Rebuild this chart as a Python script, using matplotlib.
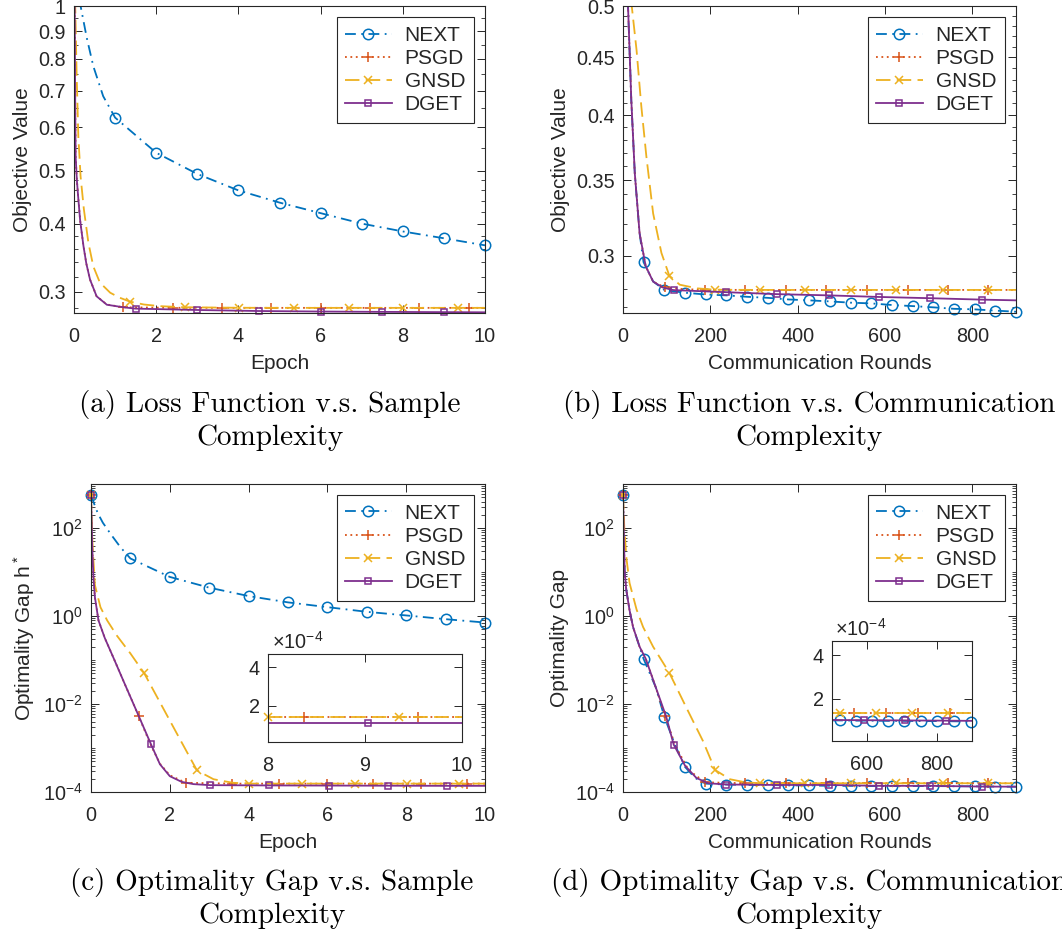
import numpy as np
import matplotlib
matplotlib.use('Agg')
import matplotlib.pyplot as plt
from matplotlib.lines import Line2D
from matplotlib.ticker import FixedLocator, FixedFormatter, NullFormatter, LogLocator

plt.rcParams['font.family'] = ['Liberation Sans', 'DejaVu Sans']
plt.rcParams['mathtext.fontset'] = 'custom'
plt.rcParams['mathtext.rm'] = 'Liberation Sans'
plt.rcParams['mathtext.it'] = 'Liberation Sans:italic'
plt.rcParams['mathtext.bf'] = 'Liberation Sans:bold'
plt.rcParams['text.color'] = '#262626'
plt.rcParams['axes.labelcolor'] = '#262626'

names = ['NEXT', 'PSGD', 'GNSD', 'DGET']
colors = ['#0072BD', '#D95319', '#EDB120', '#7E2F8E']
linestyles = [(0, (6, 3, 1, 3)), (0, (1, 2)), (0, (8, 3.5)), '-']
markers = ['o', '+', 'x', 's']
msizes = [7.5, 7, 6, 5]

# (a) objective vs epoch
a_next_x = [0, 0.05, 0.1, 0.16, 0.31, 0.47, 0.71, 1, 2, 3, 4, 5, 6, 7, 8, 9, 10]
a_next_y = [2.2, 1.45, 1.18, 1.0, 0.875, 0.776, 0.684, 0.625, 0.539, 0.493, 0.460, 0.437, 0.418, 0.400,
            0.387, 0.376, 0.365]
a_next_mk = [1, 2, 3, 4, 5, 6, 7, 8, 9, 10]
a_psgd_x = [0, 0.01, 0.02, 0.03, 0.04, 0.07, 0.1, 0.15, 0.23, 0.3, 0.39, 0.55, 0.8, 1.2, 2.4, 3.6, 4.8,
            6.0, 7.2, 8.4, 9.6, 10]
a_psgd_y = [2.2, 1.3, 0.9, 0.65, 0.53, 0.48, 0.449, 0.405, 0.364, 0.338, 0.316, 0.2945, 0.2845, 0.2812,
            0.2806, 0.2805, 0.2805, 0.2805, 0.2805, 0.2805, 0.2805, 0.2805]
a_psgd_mk = [1.2, 2.4, 3.6, 4.8, 6.0, 7.2, 8.4, 9.6]
a_gnsd_x = [0, 0.015, 0.03, 0.065, 0.105, 0.16, 0.24, 0.35, 0.47, 0.63, 0.88, 1.1, 1.36, 1.7, 2.1, 2.7,
            4.02, 5.35, 6.69, 8.01, 9.35, 10]
a_gnsd_y = [2.2, 1.4, 1.0, 0.745, 0.578, 0.488, 0.425, 0.369, 0.334, 0.312, 0.299, 0.293, 0.288, 0.2845,
            0.2825, 0.2812, 0.2806, 0.2805, 0.2805, 0.2805, 0.2805, 0.2805]
a_gnsd_mk = [1.36, 2.7, 4.02, 5.35, 6.69, 8.01, 9.35]
a_dget_x = [0, 0.01, 0.02, 0.03, 0.04, 0.07, 0.1, 0.15, 0.23, 0.3, 0.39, 0.55, 0.8, 1.2, 1.5, 3.0, 4.5,
            6.0, 7.5, 9.0, 10]
a_dget_y = [2.2, 1.3, 0.9, 0.65, 0.53, 0.48, 0.449, 0.405, 0.364, 0.338, 0.316, 0.2945, 0.2842, 0.2812,
            0.2796, 0.2780, 0.2768, 0.2762, 0.2758, 0.2755, 0.2753]
a_dget_mk = [1.5, 3.0, 4.5, 6.0, 7.5, 9.0]

# (b) objective vs communication rounds
b_next_x = [0, 4, 8, 11.5, 19, 27, 38, 47, 69, 95, 142, 189, 237, 284, 332, 379, 426, 474, 521, 568,
            616, 663, 711, 758, 805, 853, 900]
b_next_y = [2.2, 1.2, 0.7, 0.5, 0.412, 0.355, 0.314, 0.296, 0.2845, 0.2795, 0.278, 0.277, 0.2765,
            0.2757, 0.2751, 0.2742, 0.2737, 0.2731, 0.2724, 0.272, 0.2711, 0.2705, 0.2698, 0.269,
            0.2687, 0.268, 0.2674]
b_next_mk = [47, 95, 142, 189, 237, 284, 332, 379, 426, 474, 521, 568, 616, 663, 711, 758, 805, 853, 900]
b_psgd_x = [0, 4, 8, 11.5, 19, 27, 38, 52, 69, 96, 140, 188, 280, 374, 466, 559, 653, 745, 837, 900]
b_psgd_y = [2.2, 1.2, 0.7, 0.5, 0.412, 0.355, 0.314, 0.2935, 0.2844, 0.281, 0.2800, 0.2797, 0.2796,
            0.2796, 0.2796, 0.2796, 0.2796, 0.2796, 0.2796, 0.2796]
b_psgd_mk = [96, 188, 280, 374, 466, 559, 653, 745, 837]
b_gnsd_x = [0, 5, 10, 15, 20, 31, 42, 53.5, 69, 88, 106, 130, 170, 211, 314, 417, 521, 626, 732, 836,
            900]
b_gnsd_y = [2.2, 1.5, 0.9, 0.62, 0.5, 0.457, 0.407, 0.3675, 0.327, 0.3016, 0.2879, 0.2826, 0.2805,
            0.2797, 0.2796, 0.2796, 0.2796, 0.2796, 0.2796, 0.2796, 0.2796]
b_gnsd_mk = [106, 211, 314, 417, 521, 626, 732, 836]
b_dget_x = [0, 4, 8, 11.5, 19, 27, 38, 52, 69, 92, 116, 237, 352, 471, 587, 704, 822, 900]
b_dget_y = [2.2, 1.2, 0.7, 0.5, 0.4125, 0.355, 0.314, 0.2935, 0.2844, 0.2809, 0.2795, 0.2783, 0.2772,
            0.2765, 0.2756, 0.2749, 0.2741, 0.2737]
b_dget_mk = [116, 237, 352, 471, 587, 704, 822]

# (c) optimality gap vs epoch
c_next_x = [0, 0.08, 0.17, 0.3, 0.51, 0.75, 1, 2, 3, 4, 5, 6, 7, 8, 9, 10]
c_next_y = [562, 355, 219, 132, 70.8, 36.3, 20.3, 7.73, 4.41, 2.84, 2.04, 1.59, 1.245, 1.03, 0.847, 0.71]
c_next_mk = [0, 1, 2, 3, 4, 5, 6, 7, 8, 9, 10]
c_psgd_x = [0, 0.03, 0.06, 0.1, 0.19, 0.35, 0.575, 0.83, 1.21, 1.5, 1.75, 2.0, 2.41, 3.59, 4.78, 5.98,
            7.17, 8.37, 9.55, 10]
c_psgd_y = [562, 39.8, 7.94, 2.63, 0.794, 0.316, 0.1096, 0.0324, 5.3e-3, 1.26e-3, 4.4e-4, 2.4e-4,
            1.62e-4, 1.55e-4, 1.55e-4, 1.55e-4, 1.55e-4, 1.55e-4, 1.55e-4, 1.55e-4]
c_psgd_mk = [0, 1.21, 2.41, 3.59, 4.78, 5.98, 7.17, 8.37, 9.55]
c_gnsd_x = [0, 0.02, 0.04, 0.1, 0.24, 0.41, 0.66, 1.0, 1.35, 1.93, 2.27, 2.69, 3.11, 3.6, 4.02, 5.36,
            6.69, 8.01, 9.35, 10]
c_gnsd_y = [562, 126, 39.8, 5.01, 1.585, 0.794, 0.355, 0.141, 0.0501, 5.5e-3, 1.51e-3, 3.09e-4,
            1.95e-4, 1.62e-4, 1.55e-4, 1.55e-4, 1.55e-4, 1.55e-4, 1.55e-4, 1.55e-4]
c_gnsd_mk = [0, 1.35, 2.69, 4.02, 5.36, 6.69, 8.01, 9.35]
c_dget_x = [0, 0.03, 0.06, 0.1, 0.19, 0.35, 0.575, 0.83, 1.21, 1.52, 1.75, 2.0, 2.3, 2.6, 3.03, 4.53,
            6.03, 7.53, 9.03, 10]
c_dget_y = [562, 39.8, 7.94, 2.63, 0.794, 0.316, 0.1096, 0.0324, 5.37e-3, 1.23e-3, 4.27e-4, 2.29e-4,
            1.70e-4, 1.51e-4, 1.43e-4, 1.41e-4, 1.40e-4, 1.39e-4, 1.38e-4, 1.38e-4]
c_dget_mk = [0, 1.52, 3.03, 4.53, 6.03, 7.53, 9.03]

# (c) inset, epochs 8-10
ci_psgd_x = [8, 8.37, 9.55, 10]
ci_psgd_y = [1.41e-4, 1.41e-4, 1.41e-4, 1.41e-4]
ci_psgd_mk = [8.37, 9.55]
ci_gnsd_x = [8, 9.35, 10]
ci_gnsd_y = [1.41e-4, 1.41e-4, 1.41e-4]
ci_gnsd_mk = [8, 9.35]
ci_dget_x = [8, 9.03, 10]
ci_dget_y = [1.08e-4, 1.08e-4, 1.08e-4]
ci_dget_mk = [9.03]

# (d) optimality gap vs communication rounds
d_next_x = [0, 2, 3.8, 7.6, 15, 23, 38, 47, 75, 95, 120, 142, 165, 189, 237, 284, 332, 379, 426, 474,
            521, 568, 616, 663, 711, 758, 805, 853, 900]
d_next_y = [562, 63.1, 10, 3.89, 1.35, 0.562, 0.2, 0.107, 0.024, 5.01e-3, 1.12e-3, 3.72e-4, 2.09e-4,
            1.55e-4, 1.48e-4, 1.445e-4, 1.445e-4, 1.41e-4, 1.41e-4, 1.38e-4, 1.38e-4, 1.365e-4,
            1.365e-4, 1.365e-4, 1.365e-4, 1.35e-4, 1.35e-4, 1.33e-4, 1.32e-4]
d_next_mk = [0, 47, 95, 142, 189, 237, 284, 332, 379, 426, 474, 521, 568, 616, 663, 711, 758, 805, 853,
             900]
d_psgd_x = [0, 2, 3.8, 7.6, 15, 23, 38, 52, 75, 96, 120, 150, 188, 280, 374, 466, 559, 653, 745, 837,
            900]
d_psgd_y = [562, 63.1, 10, 3.89, 1.35, 0.562, 0.2, 0.107, 0.024, 5.37e-3, 1.12e-3, 3.16e-4, 1.66e-4,
            1.58e-4, 1.58e-4, 1.58e-4, 1.58e-4, 1.58e-4, 1.58e-4, 1.58e-4, 1.58e-4]
d_psgd_mk = [0, 96, 188, 280, 374, 466, 559, 653, 745, 837]
d_gnsd_x = [0, 3, 8, 15, 31, 46, 69, 106, 145, 183, 211, 245, 280, 314, 417, 521, 626, 732, 836, 900]
d_gnsd_y = [562, 100, 20, 5.62, 1.41, 0.562, 0.2, 0.0513, 8.3e-3, 1.45e-3, 3.16e-4, 1.95e-4, 1.66e-4,
            1.58e-4, 1.58e-4, 1.58e-4, 1.58e-4, 1.58e-4, 1.58e-4, 1.58e-4]
d_gnsd_mk = [0, 106, 211, 314, 417, 521, 626, 732, 836]
d_dget_x = [0, 2, 3.8, 7.6, 15, 23, 38, 52, 75, 99, 116, 142, 168, 195, 237, 352, 471, 587, 704, 822,
            900]
d_dget_y = [562, 63.1, 10, 3.89, 1.35, 0.562, 0.2, 0.107, 0.024, 5.13e-3, 1.2e-3, 3.98e-4, 2.09e-4,
            1.58e-4, 1.48e-4, 1.445e-4, 1.445e-4, 1.38e-4, 1.38e-4, 1.33e-4, 1.32e-4]
d_dget_mk = [0, 116, 237, 352, 471, 587, 704, 822]

# (d) inset, rounds 500-900
di_next_x = [500, 522, 568, 613, 661, 707, 753, 800, 849, 897]
di_next_y = [1.02e-4, 1.02e-4, 1.01e-4, 1.01e-4, 1.0e-4, 1.0e-4, 0.99e-4, 0.99e-4, 0.98e-4, 0.97e-4]
di_next_mk = [522, 568, 613, 661, 707, 753, 800, 849, 897]
di_psgd_x = [500, 563, 655, 745, 836, 900]
di_psgd_y = [1.38e-4, 1.38e-4, 1.38e-4, 1.38e-4, 1.38e-4, 1.38e-4]
di_psgd_mk = [563, 655, 745, 836]
di_gnsd_x = [500, 523, 626, 729, 832, 900]
di_gnsd_y = [1.38e-4, 1.38e-4, 1.38e-4, 1.38e-4, 1.38e-4, 1.38e-4]
di_gnsd_mk = [523, 626, 729, 832]
di_dget_x = [500, 590, 709, 825, 900]
di_dget_y = [1.04e-4, 1.03e-4, 1.02e-4, 1.01e-4, 1.0e-4]
di_dget_mk = [590, 709, 825]

TICK_FS = 14.3
LABEL_FS = 15


def draw_series(ax, i, x, y, mk):
    x = np.asarray(x, dtype=float)
    y = np.asarray(y, dtype=float)
    ax.plot(x, y, color=colors[i], ls=linestyles[i], lw=1.3)
    sel = np.isin(x, mk)
    ax.plot(x[sel], y[sel], ls='none', marker=markers[i], ms=msizes[i], mfc='none',
            mec=colors[i], mew=1.1, clip_on=False)


def style_axes(ax):
    ax.tick_params(which='both', direction='in', top=True, right=True, colors='#262626',
                   labelsize=TICK_FS)
    ax.tick_params(which='major', length=6, width=0.7)
    ax.tick_params(which='minor', length=3, width=0.6)
    ax.tick_params(axis='x', which='both', pad=10)
    ax.tick_params(axis='y', which='both', pad=6)
    for s in ax.spines.values():
        s.set_linewidth(0.8)
        s.set_color('#262626')


def add_legend(ax):
    handles = [Line2D([], [], color=colors[i], ls=linestyles[i], lw=1.3, marker=markers[i],
                      ms=msizes[i], mfc='none', mew=1.1) for i in range(4)]
    leg = ax.legend(handles, names, loc='upper right', fontsize=LABEL_FS, frameon=True, fancybox=False,
                    edgecolor='#262626', framealpha=1, handlelength=2.25, handletextpad=0.62,
                    labelspacing=0.2, borderaxespad=0.55, borderpad=0.4)
    leg.get_frame().set_linewidth(0.8)


def log_gap_axis(ax):
    ax.set_yscale('log')
    ax.set_ylim(1e-4, 1e3)
    ax.yaxis.set_major_locator(FixedLocator([1e-4, 1e-2, 1e0, 1e2]))
    ax.yaxis.set_major_formatter(FixedFormatter([r'$10^{-4}$', r'$10^{-2}$', r'$10^{0}$', r'$10^{2}$']))
    ax.yaxis.set_minor_locator(LogLocator(base=10, subs=np.arange(1, 10), numticks=100))
    ax.yaxis.set_minor_formatter(NullFormatter())


def inset_axis(ax, xticks, xlim, ylim):
    style_axes(ax)
    ax.set_xlim(*xlim)
    ax.set_ylim(*ylim)
    ax.set_xticks(xticks)
    ax.set_yticks([2e-4, 4e-4])
    ax.set_yticklabels(['2', '4'])
    ax.text(0.02, 1.01, r'$\times10^{-4}$', transform=ax.transAxes, ha='left', va='bottom',
            fontsize=TICK_FS, color='#262626')


fig = plt.figure(figsize=(10.62, 9.36), dpi=100)
W, H = 1062.0, 936.0


def px_axes(l, t, r, b):
    return fig.add_axes([l / W, 1 - b / H, (r - l) / W, (b - t) / H])


ax_a = px_axes(74, 6, 485, 313)
ax_b = px_axes(623, 6, 1016, 313)
ax_c = px_axes(91, 484, 485, 792)
ax_d = px_axes(623, 484, 1016, 792)

# panel (a)
for i, (x, y, mk) in enumerate([(a_next_x, a_next_y, a_next_mk), (a_psgd_x, a_psgd_y, a_psgd_mk),
                                (a_gnsd_x, a_gnsd_y, a_gnsd_mk), (a_dget_x, a_dget_y, a_dget_mk)]):
    draw_series(ax_a, i, x, y, mk)
ax_a.set_yscale('log')
ax_a.set_xlim(0, 10)
ax_a.set_ylim(0.2745, 1.0)
ax_a.set_xticks([0, 2, 4, 6, 8, 10])
ax_a.yaxis.set_major_locator(FixedLocator([0.3, 0.4, 0.5, 0.6, 0.7, 0.8, 0.9, 1.0]))
ax_a.yaxis.set_major_formatter(FixedFormatter(['0.3', '0.4', '0.5', '0.6', '0.7', '0.8', '0.9', '1']))
ax_a.yaxis.set_minor_locator(FixedLocator([0.28, 0.32, 0.34, 0.36, 0.38, 0.42, 0.44, 0.46, 0.48, 0.55,
                                           0.65, 0.75, 0.85, 0.95]))
ax_a.yaxis.set_minor_formatter(NullFormatter())
ax_a.set_xlabel('Epoch', fontsize=LABEL_FS, labelpad=6)
ax_a.set_ylabel('Objective Value', fontsize=LABEL_FS)
style_axes(ax_a)
add_legend(ax_a)

# panel (b)
for i, (x, y, mk) in enumerate([(b_next_x, b_next_y, b_next_mk), (b_psgd_x, b_psgd_y, b_psgd_mk),
                                (b_gnsd_x, b_gnsd_y, b_gnsd_mk), (b_dget_x, b_dget_y, b_dget_mk)]):
    draw_series(ax_b, i, x, y, mk)
ax_b.set_yscale('log')
ax_b.set_xlim(0, 900)
ax_b.set_ylim(0.2667, 0.5)
ax_b.set_xticks([0, 200, 400, 600, 800])
ax_b.yaxis.set_major_locator(FixedLocator([0.3, 0.35, 0.4, 0.45, 0.5]))
ax_b.yaxis.set_major_formatter(FixedFormatter(['0.3', '0.35', '0.4', '0.45', '0.5']))
ax_b.yaxis.set_minor_locator(FixedLocator([0.27, 0.28, 0.29, 0.31, 0.32, 0.33, 0.34, 0.36, 0.37, 0.38,
                                           0.39, 0.41, 0.42, 0.43, 0.44, 0.46, 0.47, 0.48, 0.49]))
ax_b.yaxis.set_minor_formatter(NullFormatter())
ax_b.set_xlabel('Communication Rounds', fontsize=LABEL_FS, labelpad=6)
ax_b.set_ylabel('Objective Value', fontsize=LABEL_FS)
style_axes(ax_b)
add_legend(ax_b)

# panel (c)
for i, (x, y, mk) in enumerate([(c_next_x, c_next_y, c_next_mk), (c_psgd_x, c_psgd_y, c_psgd_mk),
                                (c_gnsd_x, c_gnsd_y, c_gnsd_mk), (c_dget_x, c_dget_y, c_dget_mk)]):
    draw_series(ax_c, i, x, y, mk)
log_gap_axis(ax_c)
ax_c.set_xlim(0, 10)
ax_c.set_xticks([0, 2, 4, 6, 8, 10])
ax_c.set_xlabel('Epoch', fontsize=LABEL_FS, labelpad=6)
ax_c.set_ylabel(r'Optimality Gap h$^*$', fontsize=LABEL_FS)
style_axes(ax_c)
add_legend(ax_c)

ax_ci = px_axes(268, 654, 462, 742)
for i, (x, y, mk) in [(1, (ci_psgd_x, ci_psgd_y, ci_psgd_mk)), (2, (ci_gnsd_x, ci_gnsd_y, ci_gnsd_mk)),
                      (3, (ci_dget_x, ci_dget_y, ci_dget_mk))]:
    draw_series(ax_ci, i, x, y, mk)
inset_axis(ax_ci, [8, 9, 10], (8, 10), (0.1e-4, 4.7e-4))

# panel (d)
for i, (x, y, mk) in enumerate([(d_next_x, d_next_y, d_next_mk), (d_psgd_x, d_psgd_y, d_psgd_mk),
                                (d_gnsd_x, d_gnsd_y, d_gnsd_mk), (d_dget_x, d_dget_y, d_dget_mk)]):
    draw_series(ax_d, i, x, y, mk)
log_gap_axis(ax_d)
ax_d.set_xlim(0, 900)
ax_d.set_xticks([0, 200, 400, 600, 800])
ax_d.set_xlabel('Communication Rounds', fontsize=LABEL_FS, labelpad=6)
ax_d.set_ylabel('Optimality Gap', fontsize=LABEL_FS)
style_axes(ax_d)
add_legend(ax_d)

ax_di = px_axes(832, 641, 972, 741)
for i, (x, y, mk) in enumerate([(di_next_x, di_next_y, di_next_mk), (di_psgd_x, di_psgd_y, di_psgd_mk),
                                (di_gnsd_x, di_gnsd_y, di_gnsd_mk), (di_dget_x, di_dget_y, di_dget_mk)]):
    draw_series(ax_di, i, x, y, mk)
inset_axis(ax_di, [600, 800], (500, 900), (0.08e-4, 4.65e-4))

# sub-captions
cap = dict(ha='center', va='center', fontfamily='cmr10', fontsize=21, linespacing=1.3, color='black')
fig.text(270 / W, 1 - 420.5 / H, '(a) Loss Function v.s. Sample\nComplexity', **cap)
fig.text(809 / W, 1 - 420.5 / H, '(b) Loss Function v.s. Communication\nComplexity', **cap)
fig.text(272 / W, 1 - 898.5 / H, '(c) Optimality Gap v.s. Sample\nComplexity', **cap)
fig.text(809 / W, 1 - 898.5 / H, '(d) Optimality Gap v.s. Communication\nComplexity', **cap)

fig.savefig('out.png', dpi=100)
